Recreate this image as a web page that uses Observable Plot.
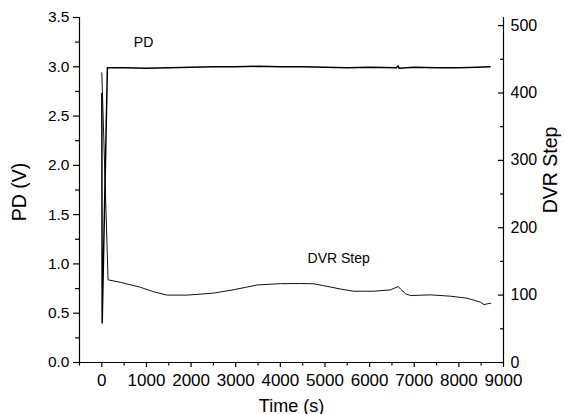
<!DOCTYPE html>
<html>
<head>
<meta charset="utf-8">
<script src="https://cdn.jsdelivr.net/npm/d3@7"></script>
<script src="https://cdn.jsdelivr.net/npm/@observablehq/plot@0.6"></script>
<style>
  html, body { margin: 0; padding: 0; background: #fff; }
  #chart svg { display: block; }
</style>
</head>
<body>
<div id="chart"></div>
<script>
// ---- Data ----
const pdTime = [0, 8, 125, 500, 1000, 1500, 2000, 2500, 3000, 3500, 4000, 4500, 5000, 5500, 6000, 6600, 6640, 6660, 7000, 7500, 8000, 8400, 8700];
const pdVolt = [2.73, 0.40, 2.99, 2.99, 2.985, 2.99, 2.995, 3.0, 3.0, 3.005, 3.0, 3.0, 2.995, 2.99, 2.995, 2.99, 3.01, 2.985, 2.995, 2.99, 2.99, 2.995, 3.0];

const dvrTime = [0, 140, 415, 863, 1162, 1462, 1910, 2507, 2955, 3480, 4000, 4450, 4749, 4973, 5348, 5646, 6094, 6469, 6640, 6693, 6805, 6917, 7365, 7814, 8188, 8487, 8561, 8711];
const dvrStep = [430, 122.7, 119, 111.7, 105, 100, 100, 103, 108, 115, 117, 117.2, 116.8, 114, 109, 105.8, 105.8, 107.8, 112.8, 109, 102, 99.4, 100.4, 98.4, 95.4, 89.5, 86, 88];

const timeTicks = [0, 1000, 2000, 3000, 4000, 5000, 6000, 7000, 8000, 9000];
const timeMinor = [-500, 500, 1500, 2500, 3500, 4500, 5500, 6500, 7500, 8500];
const pdTicks = [0, 0.5, 1.0, 1.5, 2.0, 2.5, 3.0, 3.5];
const pdMinor = [0.25, 0.75, 1.25, 1.75, 2.25, 2.75, 3.25];
const dvrTicks = [0, 100, 200, 300, 400, 500];
const dvrMinor = [50, 150, 250, 350, 450];

const timeDomain = [-500, 9000];
const pdDomain = [0, 3.5];
const dvrMax = 512;              // right axis top, aligned with PD 3.5 V
const k = pdDomain[1] / dvrMax;  // DVR step -> left-axis units

const annotations = [
  {label: "PD", t: 935, v: 3.25},
  {label: "DVR Step", t: 5307, v: 1.055}
];

const pdData = pdTime.map((t, i) => ({t, v: pdVolt[i]}));
const dvrData = dvrTime.map((t, i) => ({t, v: dvrStep[i] * k}));

const font = "'Liberation Sans', Arial, Helvetica, sans-serif";
const none = () => "";

const chart = Plot.plot({
  width: 565,
  height: 414,
  marginLeft: 79,
  marginRight: 62,
  marginTop: 17,
  marginBottom: 52,
  style: {fontFamily: font, fontSize: "15px", color: "#000", background: "#fff", overflow: "visible"},
  x: {domain: timeDomain},
  y: {domain: pdDomain},
  marks: [
    // axis lines
    Plot.ruleX(timeDomain, {stroke: "#000", strokeWidth: 1.2}),
    Plot.ruleY([pdDomain[0]], {stroke: "#000", strokeWidth: 1.2}),
    // bottom axis
    Plot.axisX({ticks: timeTicks, tickSize: 5, tickPadding: 6, label: null, fontSize: 17, stroke: "#000", strokeWidth: 1.2, tickFormat: d => String(d)}),
    Plot.axisX({ticks: timeMinor, tickSize: 3.5, label: null, stroke: "#000", strokeWidth: 1.2, tickFormat: none}),
    // left axis
    Plot.axisY({ticks: pdTicks, tickSize: 6, tickPadding: 4, label: null, fontSize: 15.5, stroke: "#000", strokeWidth: 1.2, tickFormat: d => d.toFixed(1)}),
    Plot.axisY({ticks: pdMinor, tickSize: 4, label: null, stroke: "#000", strokeWidth: 1.2, tickFormat: none}),
    // right axis (ticks point inward)
    Plot.axisY({anchor: "right", ticks: dvrTicks.map(d => d * k), tickSize: 6, dx: -6, label: null, stroke: "#000", strokeWidth: 1.2, tickFormat: none}),
    Plot.axisY({anchor: "right", ticks: dvrMinor.map(d => d * k), tickSize: 4, dx: -4, label: null, stroke: "#000", strokeWidth: 1.2, tickFormat: none}),
    Plot.axisY({anchor: "right", ticks: dvrTicks.map(d => d * k), tickSize: 0, tickPadding: 7, label: null, fontSize: 16, tickFormat: d => String(Math.round(d / k))}),
    // data
    Plot.line(dvrData, {x: "t", y: "v", stroke: "#111", strokeWidth: 1}),
    Plot.line(pdData, {x: "t", y: "v", stroke: "#000", strokeWidth: 1.5}),
    // annotations
    Plot.text(annotations, {x: "t", y: "v", text: "label", fontSize: 14, fill: "#000"}),
    // axis titles
    Plot.text(["Time (s)"], {frameAnchor: "bottom", textAnchor: "middle", lineAnchor: "bottom", dy: 49, fontSize: 18, fill: "#000"}),
    Plot.text(["PD (V)"], {frameAnchor: "left", textAnchor: "middle", rotate: -90, dx: -60, dy: 2, fontSize: 19.5, fill: "#000"}),
    Plot.text(["DVR Step"], {frameAnchor: "right", textAnchor: "middle", rotate: -90, dx: 47, dy: -20, fontSize: 19.5, fill: "#000"})
  ]
});

document.getElementById("chart").appendChild(chart);
</script>
</body>
</html>
